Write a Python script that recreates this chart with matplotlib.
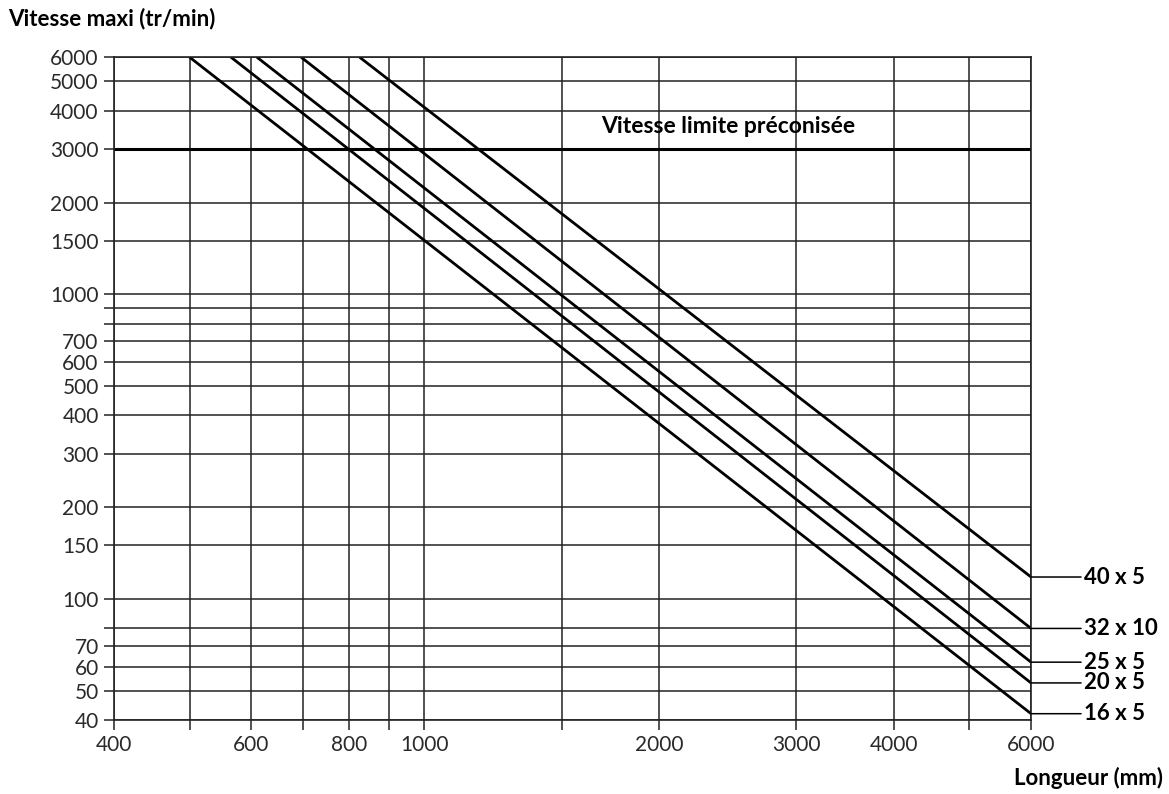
import matplotlib
matplotlib.use('Agg')
import matplotlib.pyplot as plt
from matplotlib.ticker import FixedLocator, FixedFormatter, NullLocator

# screw sizes (diameter x pitch)
labels = ['16 x 5', '20 x 5', '25 x 5', '32 x 10', '40 x 5']
# length (mm) where each curve leaves the 6000 tr/min line
start_len = [500, 565, 610, 695, 826]
start_speed = [6000, 6000, 6000, 6000, 6000]
# speed (tr/min) read at 6000 mm
end_len = [6000, 6000, 6000, 6000, 6000]
end_speed = [42, 53, 62, 80, 118]

limit_speed = 3000

x_ticks = [400, 500, 600, 700, 800, 900, 1000, 1500, 2000, 3000, 4000, 5000, 6000]
x_labels = ['400', '', '600', '', '800', '', '1000', '', '2000', '3000', '4000', '', '6000']
y_ticks = [40, 50, 60, 70, 80, 100, 150, 200, 300, 400, 500, 600, 700, 800, 900,
           1000, 1500, 2000, 3000, 4000, 5000, 6000]
y_labels = ['40', '50', '60', '70', '', '100', '150', '200', '300', '400', '500', '600',
            '700', '', '', '1000', '1500', '2000', '3000', '4000', '5000', '6000']

plt.rcParams['font.family'] = ['Lato', 'DejaVu Sans']

fig = plt.figure(figsize=(11.69, 7.94), dpi=100)
ax = fig.add_axes([0.0975, 0.093, 0.7845, 0.835])
ax.set_xscale('log')
ax.set_yscale('log')
ax.set_xlim(400, 6000)
ax.set_ylim(40, 6000)

ax.xaxis.set_major_locator(FixedLocator(x_ticks))
ax.xaxis.set_major_formatter(FixedFormatter(x_labels))
ax.xaxis.set_minor_locator(NullLocator())
ax.yaxis.set_major_locator(FixedLocator(y_ticks))
ax.yaxis.set_major_formatter(FixedFormatter(y_labels))
ax.yaxis.set_minor_locator(NullLocator())

ax.grid(True, which='major', color='#222222', linewidth=1.1)
ax.tick_params(direction='out', length=7, width=1.1, color='#222222',
               labelsize=15, labelcolor='#2a2a2a', pad=4)
for s in ax.spines.values():
    s.set_linewidth(1.2)
    s.set_color('#222222')

ax.axhline(limit_speed, color='black', linewidth=2.2)
ax.text(2450, limit_speed * 1.09, 'Vitesse limite préconisée', ha='center',
        va='bottom', fontsize=16.5, fontweight='bold')

for lab, x0, y0, x1, y1 in zip(labels, start_len, start_speed, end_len, end_speed):
    ax.plot([x0, x1], [y0, y1], color='black', linewidth=2.0, solid_capstyle='butt')
    ax.annotate(lab, xy=(x1, y1), xytext=(38, 0), textcoords='offset points',
                ha='left', va='center', fontsize=16, fontweight='bold',
                arrowprops=dict(arrowstyle='-', color='black', linewidth=1.1,
                                shrinkA=0, shrinkB=0),
                annotation_clip=False)

fig.text(0.007, 0.977, 'Vitesse maxi (tr/min)', ha='left', va='center',
         fontsize=16, fontweight='bold')
fig.text(0.995, 0.02, 'Longueur (mm)', ha='right', va='center',
         fontsize=16, fontweight='bold')

fig.savefig('out.png', dpi=100)
